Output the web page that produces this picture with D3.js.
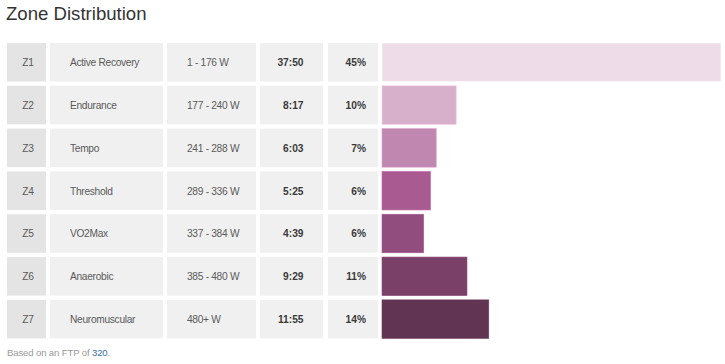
<!DOCTYPE html>
<html>
<head>
<meta charset="utf-8">
<script src="https://cdn.jsdelivr.net/npm/d3@7"></script>
<style>
  body { margin: 0; background: #fff; font-family: "Liberation Sans", Arial, sans-serif; }
  svg { display: block; }
</style>
</head>
<body>
<svg id="chart" width="725" height="364"></svg>
<script>
// zone data
const zones = ['Z1', 'Z2', 'Z3', 'Z4', 'Z5', 'Z6', 'Z7'];
const zoneNames = ['Active Recovery', 'Endurance', 'Tempo', 'Threshold', 'VO2Max', 'Anaerobic', 'Neuromuscular'];
const powerRanges = ['1 - 176 W', '177 - 240 W', '241 - 288 W', '289 - 336 W', '337 - 384 W', '385 - 480 W', '480+ W'];
const times = ['37:50', '8:17', '6:03', '5:25', '4:39', '9:29', '11:55'];
const percents = ['45%', '10%', '7%', '6%', '6%', '11%', '14%'];
const barColors = ['#eedde8', '#d7b1cb', '#c088b0', '#a95a91', '#904d7e', '#7a4068', '#603452'];
const ftp = 320;

const toSeconds = t => t.split(':').reduce((acc, v) => acc * 60 + (+v), 0);
const seconds = times.map(toSeconds);

const svg = d3.select('#chart');

// Title
svg.append('text')
    .attr('x', 6)
    .attr('y', 20)
    .attr('font-size', 18.6)
    .attr('fill', '#333')
    .text('Zone Distribution');

// row scale
const yScale = d3.scaleBand()
    .domain(zones)
    .range([43, 338.4])
    .paddingInner(0.1)
    .paddingOuter(0);

// bar scale - bars proportional to time in zone
const xScale = d3.scaleLinear()
    .domain([0, d3.max(seconds)])
    .range([382, 721]);

// columns
const cols = [
    { x0: 7, x1: 46, anchor: 'middle', tx: 28, bold: false, fill: '#e4e4e4', get: i => zones[i] },
    { x0: 50, x1: 163, anchor: 'start', tx: 70, bold: false, fill: '#f0f0f0', get: i => zoneNames[i] },
    { x0: 167, x1: 256, anchor: 'start', tx: 187, bold: false, fill: '#f0f0f0', get: i => powerRanges[i] },
    { x0: 260, x1: 323, anchor: 'end', tx: 303.5, bold: true, fill: '#f0f0f0', get: i => times[i] },
    { x0: 328, x1: 378, anchor: 'end', tx: 366, bold: true, fill: '#f0f0f0', get: i => percents[i] }
];

const rows = svg.append('g')
    .selectAll('g.row')
    .data(zones)
    .join('g')
    .attr('class', 'row')
    .attr('transform', d => 'translate(0,' + yScale(d) + ')');

cols.forEach(c => {
    rows.append('rect')
        .attr('x', c.x0)
        .attr('width', c.x1 - c.x0)
        .attr('height', yScale.bandwidth())
        .attr('fill', c.fill);

    rows.append('text')
        .attr('x', c.tx)
        .attr('y', yScale.bandwidth() / 2 + 4)
        .attr('text-anchor', c.anchor)
        .attr('font-size', 10.2)
        .attr('letter-spacing', c.bold ? 0 : -0.3)
        .attr('font-weight', c.bold ? 'bold' : 'normal')
        .attr('fill', c.bold ? '#3a3a3a' : '#5a5a5a')
        .text((d, i) => c.get(i));
});

// bars
rows.append('rect')
    .attr('x', xScale(0))
    .attr('width', (d, i) => xScale(seconds[i]) - xScale(0))
    .attr('height', yScale.bandwidth())
    .attr('fill', (d, i) => barColors[i])
    .attr('stroke', (d, i) => d3.color(barColors[i]).brighter(0.4))
    .attr('stroke-width', 0.6);

// footer
const foot = svg.append('text')
    .attr('x', 7)
    .attr('y', 356)
    .attr('font-size', 9.6)
    .attr('letter-spacing', -0.15)
    .attr('fill', '#9a9a9a');
foot.append('tspan').text('Based on an FTP of ');
foot.append('tspan').attr('fill', '#3b6ea5').text(ftp);
foot.append('tspan').text('.');
</script>
</body>
</html>
